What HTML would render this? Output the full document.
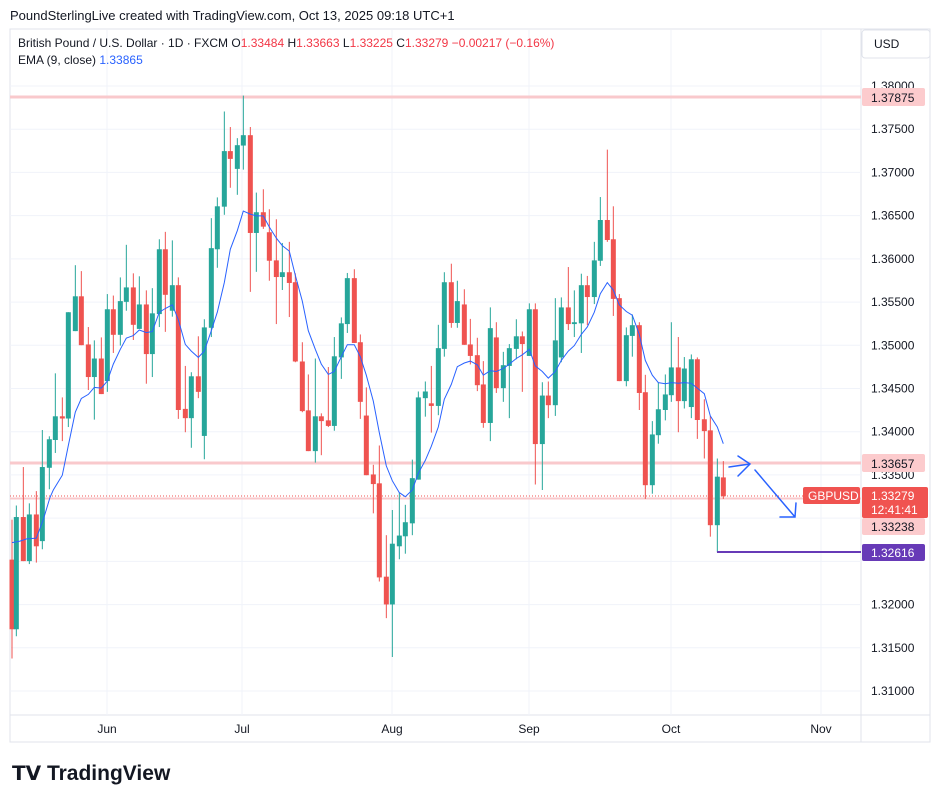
<!DOCTYPE html>
<html><head><meta charset="utf-8"><style>
body{margin:0;background:#fff;font-family:"Liberation Sans",sans-serif;}
svg text{font-family:"Liberation Sans",sans-serif;}
</style></head><body>
<svg id="s" width="943" height="802" xmlns="http://www.w3.org/2000/svg">
<rect width="943" height="802" fill="#fff"/>
<text x="10" y="20" font-size="13" fill="#131722">PoundSterlingLive created with TradingView.com, Oct 13, 2025 09:18 UTC+1</text>
<rect x="10" y="29" width="920" height="713" fill="none" stroke="#e0e3eb"/>
<line x1="861" y1="29" x2="861" y2="742" stroke="#e0e3eb"/>
<line x1="10" y1="715" x2="930" y2="715" stroke="#e0e3eb"/>
<g id="grid"></g>
<rect x="862" y="30" width="68" height="28" fill="#fff" stroke="#e0e3eb" rx="3"/>
<text x="874" y="48" font-size="12" fill="#131722">USD</text>
<text x="18" y="47" font-size="12" fill="#131722">British Pound / U.S. Dollar · 1D · FXCM <tspan fill="#131722">O</tspan><tspan fill="#f23645">1.33484</tspan> <tspan>H</tspan><tspan fill="#f23645">1.33663</tspan> <tspan>L</tspan><tspan fill="#f23645">1.33225</tspan> <tspan>C</tspan><tspan fill="#f23645">1.33279 −0.00217 (−0.16%)</tspan></text>
<text x="18" y="64" font-size="12" fill="#131722">EMA (9, close) <tspan fill="#2962ff">1.33865</tspan></text>
<line x1="10" y1="97" x2="861" y2="97" stroke="#f9c9cc" stroke-width="3"/>
<line x1="10" y1="463" x2="861" y2="463" stroke="#f9c9cc" stroke-width="3"/>
<line x1="10" y1="498.5" x2="861" y2="498.5" stroke="#f9c9cc" stroke-width="2"/>
<line x1="10" y1="496" x2="861" y2="496" stroke="#f05350" stroke-width="1" stroke-dasharray="1,2"/>
<g id="c"></g>
<polyline id="ema" fill="none" stroke="#2962ff" stroke-width="1"/>
<line x1="717" y1="552" x2="861" y2="552" stroke="#673ab7" stroke-width="2"/>
<g stroke="#2962ff" stroke-width="1.5" fill="none" stroke-linecap="round">
<path d="M729 467 L750 464 M738 456 L750 464 L738 476"/>
<path d="M755 470 L795 517 M780 517 L795 517 L796 503"/>
</g>
<g id="ax" font-size="12" fill="#131722"></g>
<rect x="862" y="88" width="63" height="18" fill="#fccbcd" rx="2"/><text x="871" y="102" font-size="12" fill="#131722">1.37875</text>
<rect x="862" y="454" width="63" height="18" fill="#fccbcd" rx="2"/><text x="871" y="468" font-size="12" fill="#131722">1.33657</text>
<rect x="803" y="487" width="57" height="17" fill="#f05350" rx="2"/><text x="808" y="500" font-size="12" fill="#fff">GBPUSD</text>
<rect x="862" y="487" width="66" height="31" fill="#f05350" rx="2"/><text x="871" y="500" font-size="12" fill="#fff">1.33279</text><text x="871" y="514" font-size="12" fill="#fff">12:41:41</text>
<rect x="862" y="518" width="63" height="17" fill="#fccbcd" rx="2"/><text x="871" y="531" font-size="12" fill="#131722">1.33238</text>
<rect x="862" y="544" width="63" height="17" fill="#673ab7" rx="2"/><text x="871" y="557" font-size="12" fill="#fff">1.32616</text>
<g font-size="12" fill="#131722" text-anchor="middle">
<text x="107" y="733">Jun</text><text x="242" y="733">Jul</text><text x="392" y="733">Aug</text><text x="529" y="733">Sep</text><text x="671" y="733">Oct</text><text x="821" y="733">Nov</text>
</g>
<text x="12" y="780" font-size="21" font-weight="bold" fill="#131722"><tspan font-size="20">𝗧𝗩</tspan> TradingView</text>
</svg>
<script>
var NS="http://www.w3.org/2000/svg";
function el(p,t,a){var e=document.createElementNS(NS,t);for(var k in a)e.setAttribute(k,a[k]);p.appendChild(e);return e;}
var grid=document.getElementById('grid'),ax=document.getElementById('ax');
for(var i=0;i<=14;i++){var y=86+i*605/14;el(grid,'line',{x1:10,x2:861,y1:y,y2:y,stroke:'#f0f3fa'});
var p=(1.38-i*0.005).toFixed(5);if(i==11)continue;var t=el(ax,'text',{x:871,y:y+4});t.textContent=p;}
[107,242,392,529,671,821].forEach(function(x){el(grid,'line',{x1:x,x2:x,y1:30,y2:715,stroke:'#f0f3fa'});});
var Y=function(z){return 90+z/2.7;};
var Z1=[[36,'R',1268,1456,1160,1535],[49,'G',1153,1456,1122,1475],[70,'R',1153,1272,1018,1272],[88,'G',1146,1272,1116,1280],[109,'R',1146,1232,1083,1276],[127,'G',1018,1218,918,1240],[148,'G',943,1020,935,1078],[166,'G',881,945,765,980],[187,'R',881,887,830,948],[205,'G',600,887,600,910],[226,'G',557,651,473,651],[244,'R',557,689,489,689],[265,'R',687,775,640,810],[283,'G',725,775,676,890],[304,'R',725,821,668,821],[322,'G',592,786,551,815],[340,'R',592,661,555,710],[361,'G',570,661,506,690],[379,'G',533,572,418,596],[400,'R',533,634,495,675],[418,'G',579,645,503,645],[439,'R',579,713,541,793],[457,'G',603,713,535,775],[478,'G',430,605,403,640],[496,'R',430,553,383,653],[517,'G',527,596,406,612],[535,'R',527,864,506,888],[556,'R',861,886,745,924],[574,'G',773,886,762,966],[595,'R',773,815,665,832],[613,'G',641,934,619,997],[634,'G',427,642,346,667],[652,'G',314,430,290,480],[673,'G',165,315,58,337],[691,'R',165,186,100,264],[712,'G',149,213,130,283],[730,'G',122,150,15,215]];
var Z2=[[31,'R',122,386,100,545],[49,'G',330,386,277,491],[70,'R',330,369,268,375],[88,'R',384,461,322,515],[109,'R',460,505,349,632],[127,'G',492,505,413,540],[148,'R',492,521,410,613],[166,'R',519,733,495,735],[187,'R',733,867,681,870],[205,'R',865,975,768,975],[226,'G',881,975,725,1006],[244,'R',881,894,873,986],[265,'R',892,907,748,910],[283,'G',719,907,667,920],[304,'G',630,722,614,780],[322,'G',508,632,494,656],[343,'R',508,683,484,683],[361,'R',681,842,660,888],[379,'R',879,1040,803,1040],[400,'R',1038,1064,1012,1143],[418,'R',1062,1316,960,1327],[439,'R',1314,1389,1202,1426],[457,'G',1225,1389,1134,1531],[478,'G',1203,1232,1087,1267],[496,'G',1167,1205,1120,1252],[517,'G',1048,1170,998,1202],[535,'G',830,1052,814,1052],[556,'G',814,832,787,882],[574,'R',846,853,745,925],[595,'G',697,853,634,878],[613,'G',519,699,492,720],[634,'R',519,629,469,642],[652,'G',570,629,515,642],[673,'R',579,688,538,688],[691,'R',687,718,618,741],[712,'R',716,797,669,813]];
var Z3=[[10,'R',795,899,732,912],[31,'G',643,899,587,948],[49,'R',668,805,627,818],[70,'G',743,805,707,842],[88,'G',697,745,686,886],[109,'G',665,699,619,727],[127,'R',665,686,652,815],[148,'G',592,718,576,718],[166,'R',592,956,576,1065],[187,'G',825,956,789,1080],[205,'R',825,851,787,886],[226,'G',676,851,562,880],[244,'G',587,722,560,735],[265,'R',587,632,478,648],[283,'G',627,632,541,667],[304,'G',527,630,496,710],[322,'R',527,559,502,635],[343,'G',460,559,410,578],[361,'G',351,461,289,475],[382,'R',351,405,161,410],[400,'R',403,564,314,610],[418,'R',562,786,551,786],[439,'G',662,786,641,800],[457,'G',635,664,606,720],[478,'R',635,818,627,864],[496,'R',816,1067,769,1104],[517,'G',930,1067,894,1090],[535,'G',862,932,790,955],[556,'G',822,864,768,892],[574,'G',749,824,627,842],[595,'R',749,840,667,924],[613,'G',752,840,721,860],[634,'G',727,856,714,886],[652,'R',727,891,722,942],[673,'R',889,921,835,995],[691,'R',919,1175,880,1206],[712,'G',1044,1175,995,1248],[730,'R',1046,1097,1002,1104]];
var cg=document.getElementById('c');
function draw(arr,x0){arr.forEach(function(c){var x=x0+c[0]/3,col=c[1]=='G'?'#26a69a':'#ef5350';
el(cg,'line',{x1:x,x2:x,y1:Y(c[4]),y2:Y(c[5]),stroke:col,'stroke-width':1});
var t=Y(c[2]),b=Y(c[3]);el(cg,'rect',{x:x-2.5,y:t,width:5,height:Math.max(1,b-t),fill:col});});}
draw(Z1,0);draw(Z2,240);draw(Z3,480);
var E1=[[36,1222],[60,1218],[80,1212],[109,1210],[130,1160],[150,1100],[160,1080],[187,1040],[205,960],[226,870],[244,833],[265,822],[283,803],[304,805],[322,786],[340,740],[361,700],[379,670],[400,663],[418,648],[439,655],[457,652],[478,600],[496,590],[517,580],[535,620],[556,687],[574,705],[595,722],[613,705],[634,650],[652,600],[673,520],[691,430],[712,380],[730,327]];
var E2=[[31,335],[49,340],[70,340],[88,370],[109,400],[127,420],[148,435],[166,500],[187,570],[205,650],[226,700],[244,740],[265,768],[283,760],[304,720],[322,688],[343,688],[361,720],[379,770],[400,840],[418,925],[439,1015],[457,1055],[478,1087],[496,1098],[517,1080],[535,1035],[556,1000],[574,962],[595,910],[613,835],[634,795],[652,747],[673,737],[691,732],[712,742]];
var E3=[[10,770],[31,758],[49,760],[70,752],[88,740],[109,725],[127,715],[148,700],[166,745],[187,760],[205,778],[226,760],[244,730],[265,705],[283,690],[304,660],[322,640],[343,600],[361,550],[382,520],[400,540],[418,580],[439,598],[457,608],[478,660],[496,730],[517,770],[535,790],[556,793],[574,790],[595,792],[613,790],[634,792],[652,805],[673,820],[691,880],[712,910],[730,955]];
var pts=[];[[E1,0],[E2,240],[E3,480]].forEach(function(a){a[0].forEach(function(p){pts.push((a[1]+p[0]/3).toFixed(1)+','+Y(p[1]).toFixed(1));});});
document.getElementById('ema').setAttribute('points',pts.join(' '));
</script>
</body></html>
